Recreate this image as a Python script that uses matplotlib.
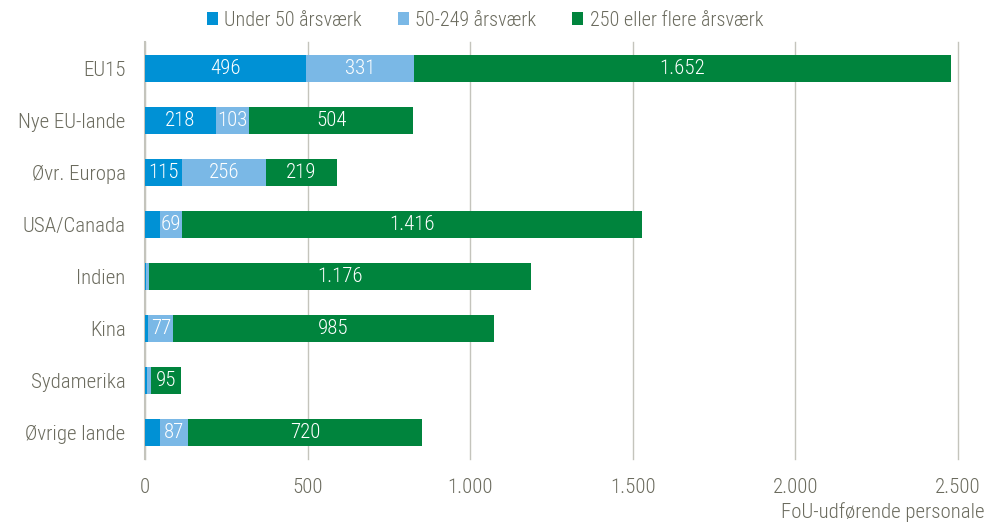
import matplotlib.pyplot as plt
import numpy as np

plt.rcParams['font.family'] = ['Roboto Condensed', 'Liberation Sans Narrow',
                               'Liberation Sans', 'DejaVu Sans']
plt.rcParams['font.weight'] = 'light'

regions = ['EU15', 'Nye EU-lande', 'Øvr. Europa', 'USA/Canada', 'Indien',
           'Kina', 'Sydamerika', 'Øvrige lande']
small = [496, 218, 115, 45, 3, 10, 5, 45]
medium = [331, 103, 256, 69, 9, 77, 12, 87]
large = [1652, 504, 219, 1416, 1176, 985, 95, 720]

series = [
    ('Under 50 årsværk', small, '#0091d5'),
    ('50-249 årsværk', medium, '#7ab8e6'),
    ('250 eller flere årsværk', large, '#00843d'),
]

text_col = '#6b6b5e'
fs = 15


def fmt(v):
    return f'{v:,}'.replace(',', '.')


fig = plt.figure(figsize=(10.02, 5.31), dpi=100)
ax = fig.add_axes([0.1447, 0.1356, 0.8113, 0.785])

y = np.arange(len(regions))
left = np.zeros(len(regions))
for name, vals, col in series:
    vals = np.array(vals, dtype=float)
    ax.barh(y, vals, left=left, height=0.52, color=col, label=name, zorder=3)
    for yi, l, v in zip(y, left, vals):
        if v >= 50:
            ax.text(l + v / 2, yi, fmt(int(v)), ha='center', va='center',
                    color='white', fontsize=fs, zorder=4)
    left += vals

ax.set_xlim(0, 2500)
ax.set_ylim(len(regions) - 0.5, -0.5)
ax.set_xticks(np.arange(0, 2501, 500))
ax.set_xticklabels([fmt(t) for t in range(0, 2501, 500)])
ax.set_yticks(y)
ax.set_yticklabels(regions)
ax.tick_params(axis='both', length=0, labelsize=fs, colors=text_col)
ax.tick_params(axis='x', pad=14)
ax.tick_params(axis='y', pad=14)

ax.grid(axis='x', color='#c4c4bc', linewidth=1, zorder=0)
for gl in ax.get_xgridlines():
    gl.set_clip_on(False)
for s in ['top', 'right', 'bottom']:
    ax.spines[s].set_visible(False)
ax.spines['left'].set_color('#c4c4bc')
ax.spines['left'].set_linewidth(1.5)

fig.text(0.983, 0.035, 'FoU-udførende personale', ha='right', va='center',
         fontsize=fs, color=text_col)

leg = fig.legend(loc='center', bbox_to_anchor=(0.484, 0.962), ncol=3,
                 frameon=False, fontsize=14.5, handlelength=0.55,
                 handleheight=0.55, handletextpad=0.3, columnspacing=1.8)
for t in leg.get_texts():
    t.set_color(text_col)

fig.savefig('out.png', dpi=100)
